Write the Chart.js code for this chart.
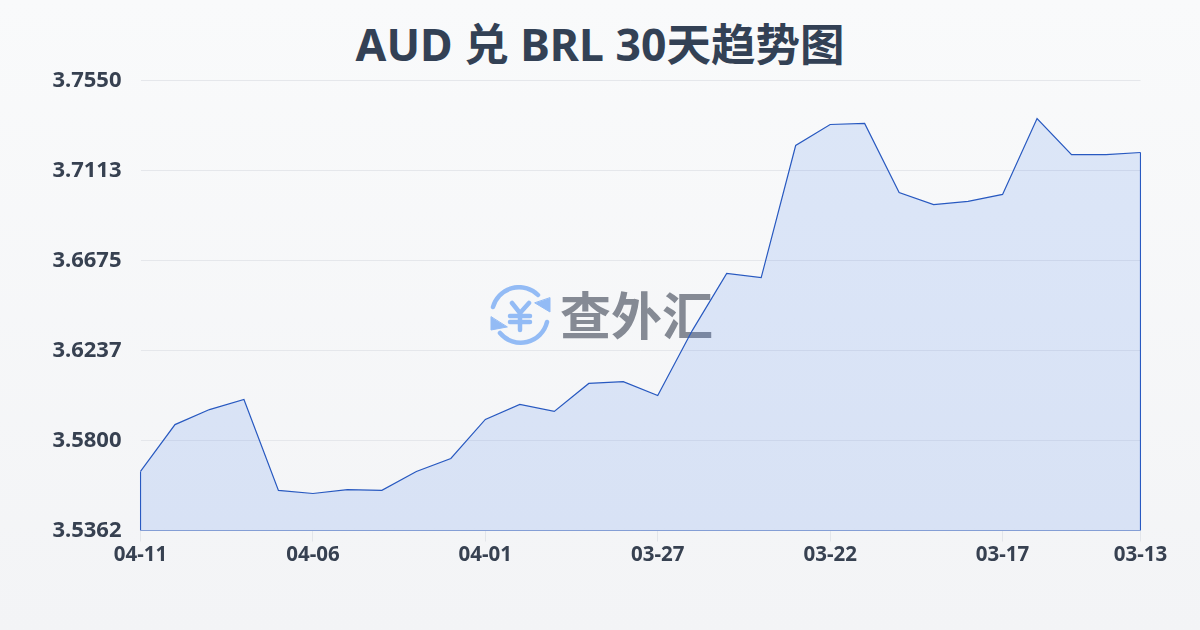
<!DOCTYPE html>
<html>
<head>
<meta charset="utf-8">
<script src="https://cdn.jsdelivr.net/npm/chart.js@4/dist/chart.umd.js"></script>
<style>
    html, body { margin: 0; padding: 0; }
    body {
        width: 1200px; height: 630px; position: relative; overflow: hidden;
        background: linear-gradient(180deg, #f9fafb 0%, #f3f4f6 100%);
    }
    h1 {
        position: absolute; left: 0; top: 12px; width: 1200px; margin: 0; text-align: center;
        font: 700 44.5px/64px "Noto Sans", "Noto Sans CJK SC", sans-serif; color: #334155;
    }
    #mark { position: absolute; left: 488px; top: 285px; width: 64px; height: 60px; }
    #markText {
        position: absolute; left: 560px; top: 277px; white-space: nowrap;
        font: 700 51px/72px "Noto Sans CJK SC", sans-serif; color: #858a94;
    }
    canvas { position: absolute; left: 0; top: 0; }
</style>
</head>
<body>
<h1>AUD 兑 BRL 30天趋势图</h1>
<svg id="mark" viewBox="0 0 64 60" fill="none" stroke="#93bbf5" stroke-width="4.5" stroke-linecap="round" stroke-linejoin="round">
    <path d="M5 22 A27 27 0 0 1 50 10"/>
    <path d="M59 37 A27 27 0 0 1 12 48"/>
    <path d="M62 13 L62 27 L47 18 Z" fill="#93bbf5" stroke="#93bbf5" stroke-width="1"/>
    <path d="M3 32 L3 45 L19 42 Z" fill="#93bbf5" stroke="#93bbf5" stroke-width="1"/>
    <path d="M24 18 L32 28 L41 18 M32 28 V45 M22 31 H42 M22 37 H42"/>
</svg>
<div id="markText">查外汇</div>
<canvas id="rateChart" width="1200" height="630"></canvas>
<script>
    var dates = ['04-11', '04-10', '04-09', '04-08', '04-07', '04-06', '04-05', '04-04', '04-03', '04-02',
        '04-01', '03-31', '03-30', '03-29', '03-28', '03-27', '03-26', '03-25', '03-24', '03-23',
        '03-22', '03-21', '03-20', '03-19', '03-18', '03-17', '03-16', '03-15', '03-14', '03-13'];
    var rates = [3.5649, 3.5877, 3.5950, 3.5999, 3.5557, 3.5542, 3.5561, 3.5557, 3.5649, 3.5712,
        3.5902, 3.5975, 3.5941, 3.6077, 3.6086, 3.6018, 3.6334, 3.6612, 3.6592, 3.7234,
        3.7336, 3.7341, 3.7005, 3.6947, 3.6962, 3.6996, 3.7365, 3.7190, 3.7190, 3.7200];
    var yTicks = [3.5362, 3.5800, 3.6237, 3.6675, 3.7113, 3.7550];
    var xTickIndexes = [0, 5, 10, 15, 20, 25, 29];

    var tickFont = { family: '"Noto Sans", sans-serif', size: 22, weight: '700' };
    var lastIndex = dates.length - 1;
    var lineColor = '#2859c0';

    // left, bottom and right edges of the area
    var areaEdge = [
        { x: dates[0], y: rates[0] },
        { x: dates[0], y: yTicks[0] },
        { x: dates[lastIndex], y: yTicks[0] },
        { x: dates[lastIndex], y: rates[lastIndex] }
    ];

    var ctx = document.getElementById('rateChart').getContext('2d');
    var rateChart = new Chart(ctx, {
        type: 'line',
        data: {
            labels: dates,
            datasets: [{
                data: rates,
                borderColor: lineColor,
                borderWidth: 1.2,
                backgroundColor: 'rgba(60, 120, 235, 0.15)',
                fill: 'start',
                tension: 0,
                pointRadius: 0
            }, {
                data: areaEdge,
                borderColor: lineColor,
                borderWidth: 1.2,
                fill: false,
                tension: 0,
                pointRadius: 0
            }]
        },
        options: {
            responsive: false,
            animation: false,
            layout: { padding: { top: 80.5, right: 59.5, bottom: 0, left: 0 } },
            plugins: {
                legend: { display: false },
                tooltip: { enabled: false }
            },
            scales: {
                x: {
                    afterBuildTicks: function (axis) {
                        axis.ticks = xTickIndexes.map(function (i) { return { value: i }; });
                    },
                    afterFit: function (axis) { axis.height = 99.5; },
                    grid: { drawOnChartArea: false, color: '#e2e5ea', tickLength: 11 },
                    border: { display: false },
                    ticks: {
                        autoSkip: false,
                        maxRotation: 0,
                        padding: 1,
                        color: '#374151',
                        font: { family: tickFont.family, size: 20.5, weight: '700' }
                    }
                },
                y: {
                    min: yTicks[0],
                    max: yTicks[yTicks.length - 1],
                    afterBuildTicks: function (axis) {
                        axis.ticks = yTicks.map(function (v) { return { value: v }; });
                    },
                    afterFit: function (axis) { axis.width = 140.5; },
                    grid: { color: '#e5e7eb', drawTicks: false },
                    border: { display: false },
                    ticks: {
                        padding: 19,
                        color: '#374151',
                        font: tickFont,
                        callback: function (value) { return value.toFixed(4); }
                    }
                }
            }
        }
    });
</script>
</body>
</html>
